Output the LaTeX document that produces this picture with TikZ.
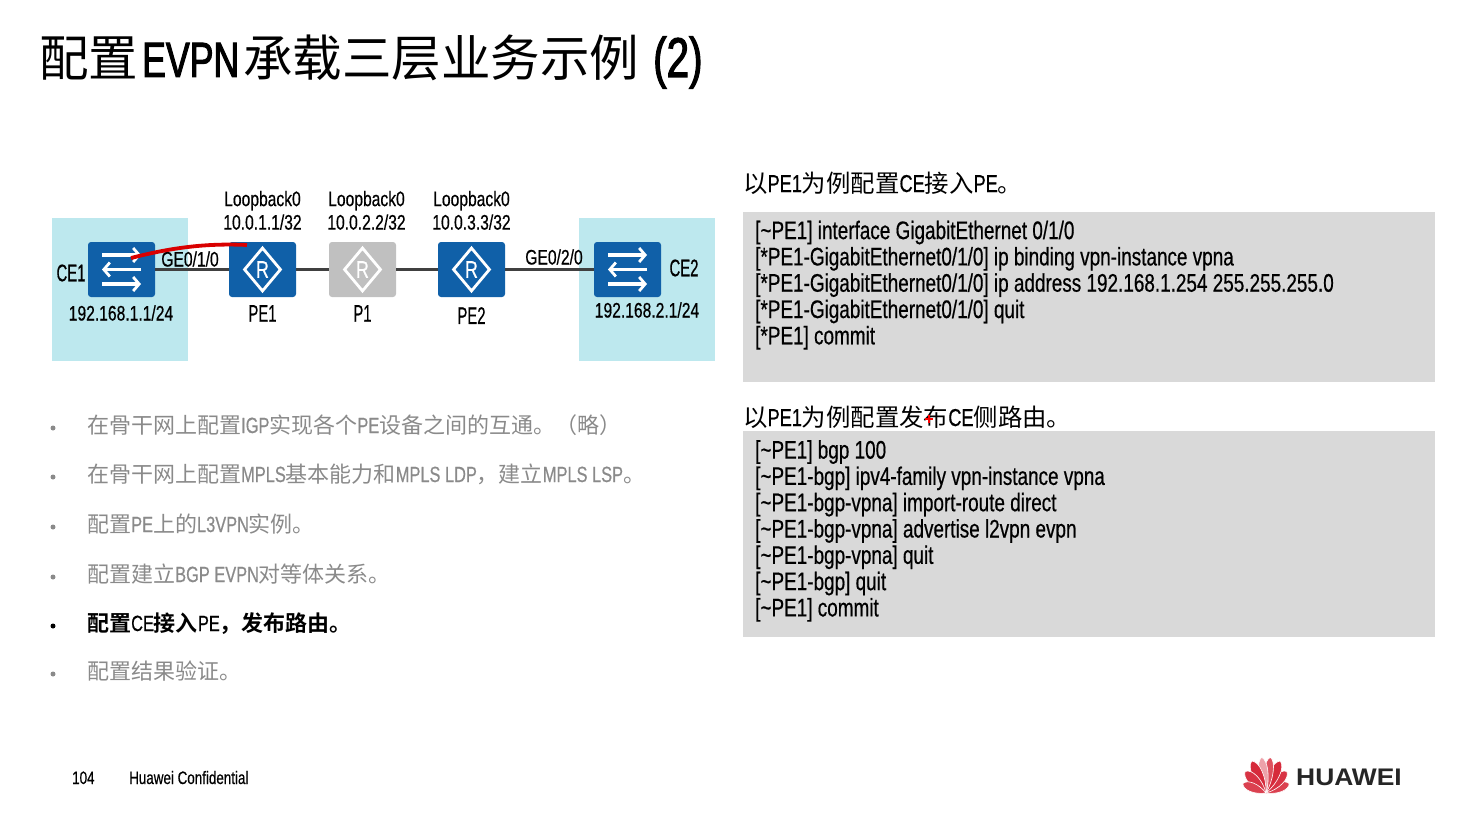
\documentclass[tikz,border=0pt]{standalone}
\usepackage{fontspec}
\usepackage{xcolor}
\usepackage{tikz}
\usetikzlibrary{shapes,arrows.meta,positioning,calc}
\setmainfont{Liberation Sans}[FakeStretch=0.745,FakeBold=0.5]
\newfontfamily\titlefont{Liberation Sans}[FakeStretch=0.72,FakeBold=2]
\newfontfamily\namefont{Liberation Sans}[FakeStretch=0.62,FakeBold=0.5]
\newfontfamily\cjk{Noto Sans CJK SC}
\newfontfamily\cjkbold{Noto Sans CJK SC Bold}
\newfontfamily\brandfont{Liberation Sans Bold}[FakeStretch=1.1]
\newcommand{\zh}[1]{{\cjk #1}}
\newcommand{\zhb}[1]{{\cjkbold #1}}
\definecolor{huaweiblue}{HTML}{1060A8}
\definecolor{devgray}{HTML}{C0C0C0}
\definecolor{sitebg}{HTML}{BDE8EE}
\definecolor{codebg}{HTML}{D9D9D9}
\definecolor{linkline}{HTML}{404040}
\definecolor{mutedtext}{HTML}{8A8A8A}
\definecolor{brandred}{HTML}{D3172A}
\tikzset{
  devbox/.style={minimum width=67pt, minimum height=55pt, inner sep=0pt, outer sep=0pt, rounded corners=3pt},
  sitebox/.style={fill=sitebg, minimum width=136pt, minimum height=143pt, inner sep=0pt},
  codebox/.style={fill=codebg, minimum width=692pt, inner sep=0pt, anchor=north west},
  devlabel/.style={font=\namefont\fontsize{24}{26}\selectfont, inner sep=0pt},
  addrlabel/.style={font=\fontsize{21}{23.5}\selectfont, inner sep=0pt, align=center},
  headline/.style={font=\fontsize{24.4}{26}\selectfont, inner sep=0pt, anchor=base west},
  codeline/.style={font=\fontsize{25.4}{26.3}\selectfont, inner sep=0pt, anchor=north west, align=left},
  bulletline/.style={font=\fontsize{22}{24}\selectfont, inner sep=0pt, anchor=base west, text=mutedtext},
  dotmark/.style={circle, fill=#1, minimum size=5pt, inner sep=0pt},
  flowarrow/.style={white, line width=3.4pt, -{Straight Barb[length=6pt,width=14pt,line width=2.8pt]}},
  swicon/.pic={
    \draw[flowarrow] (-19.5,-14.5) -- (19.5,-14.5);
    \draw[flowarrow] (19.5,0) -- (-19.5,0);
    \draw[flowarrow] (-19.5,14.5) -- (19.5,14.5);
  }
}
\begin{document}
\begin{tikzpicture}[x=1pt, y=-1pt, font=\fontsize{21}{24}\selectfont]
  \useasboundingbox (0,0) rectangle (1470,816);

  \node[inner sep=0pt, anchor=base west, font=\fontsize{49.5}{52}\selectfont] (title) at (39,77) {\zh{配置}\kern4pt{\titlefont EVPN}\kern4pt\zh{承载三层业务示例}\kern14pt{\titlefont\fontsize{56}{58}\selectfont (2)}};

  \node[sitebox] (site1) at (120,289.5) {};
  \node[sitebox] (site2) at (646.5,289.5) {};

  \node[devbox, fill=huaweiblue] (CE1) at (121.5,269.5) {};
  \node[devbox, fill=huaweiblue, right=74pt of CE1] (PE1) {};
  \node[devbox, fill=devgray, right=33pt of PE1] (P1) {};
  \node[devbox, fill=huaweiblue, right=42pt of P1] (PE2) {};
  \node[devbox, fill=huaweiblue, right=89pt of PE2] (CE2) {};

  \draw[linkline, line width=2.2pt] (CE1) -- (PE1) -- (P1) -- (PE2) -- (CE2);

  \pic at (CE1) {swicon};
  \pic at (CE2) {swicon};
  \foreach \dev in {PE1,P1,PE2} {
    \node[diamond, draw=white, line width=2.8pt, minimum width=37pt, minimum height=44pt, inner sep=0pt, text=white, font=\fontsize{24}{26}\selectfont] (\dev mark) at (\dev) {R};
  }

  \node[addrlabel, above=12pt of PE1] (PE1loop) {Loopback0\\10.0.1.1/32};
  \node[addrlabel, above=12pt of P1, xshift=4pt] (P1loop) {Loopback0\\10.0.2.2/32};
  \node[addrlabel, above=12pt of PE2] (PE2loop) {Loopback0\\10.0.3.3/32};
  \node[devlabel, below=8pt of PE1] (PE1name) {PE1};
  \node[devlabel, below=8pt of P1] (P1name) {P1};
  \node[devlabel, below=10pt of PE2] (PE2name) {PE2};
  \node[devlabel] (CE1name) at (71,273) {CE1};
  \node[devlabel] (CE2name) at (684,268) {CE2};
  \node[addrlabel] (CE1addr) at (121,313) {192.168.1.1/24};
  \node[addrlabel] (CE2addr) at (647,310) {192.168.2.1/24};
  \node[addrlabel] (CE1port) at (190,259) {GE0/1/0};
  \node[addrlabel] (CE2port) at (554,257) {GE0/2/0};

  \coordinate (strokeA) at (131,258);
  \coordinate (strokeB) at (247,245);
  \draw[red!85!black, line width=3.8pt] (strokeA) .. controls (170,248) and (205,243) .. (strokeB);

  \node[headline] (head1) at (743,192) {\zh{以}PE1\zh{为例配置}CE\zh{接入}PE\zh{。}};
  \node[codebox, minimum height=170pt] (code1) at (743,212) {};
  \node[codeline] (code1text) at (755,220.5) {{[}\textasciitilde PE1] interface GigabitEthernet 0/1/0\\
    {[}*PE1-GigabitEthernet0/1/0] ip binding vpn-instance vpna\\
    {[}*PE1-GigabitEthernet0/1/0] ip address 192.168.1.254 255.255.255.0\\
    {[}*PE1-GigabitEthernet0/1/0] quit\\
    {[}*PE1] commit};

  \node[headline] (head2) at (743,426) {\zh{以}PE1\zh{为例配置发布}CE\zh{侧路由。}};
  \node[codebox, minimum height=206pt] (code2) at (743,431) {};
  \node[codeline] (code2text) at (755,440) {{[}\textasciitilde PE1] bgp 100\\
    {[}\textasciitilde PE1-bgp] ipv4-family vpn-instance vpna\\
    {[}\textasciitilde PE1-bgp-vpna] import-route direct\\
    {[}\textasciitilde PE1-bgp-vpna] advertise l2vpn evpn\\
    {[}\textasciitilde PE1-bgp-vpna] quit\\
    {[}\textasciitilde PE1-bgp] quit\\
    {[}\textasciitilde PE1] commit};
  \coordinate (penmark) at (929,419);
  \draw[red, line width=1.6pt] ($(penmark)+(-4,0)$) -- ($(penmark)+(4,0)$) ($(penmark)+(0,-4)$) -- ($(penmark)+(0,4)$);

  \foreach \ypos/\txt in {
    433/{\zh{在骨干网上配置}IGP\zh{实现各个}PE\zh{设备之间的互通。（略）}},
    482/{\zh{在骨干网上配置}MPLS\zh{基本能力和}MPLS LDP\zh{，建立}MPLS LSP\zh{。}},
    532/{\zh{配置}PE\zh{上的}L3VPN\zh{实例。}},
    582/{\zh{配置建立}BGP EVPN\zh{对等体关系。}},
    679/{\zh{配置结果验证。}}} {
    \node[bulletline] at (87,\ypos) {\txt};
    \node[dotmark=mutedtext] at (53,\ypos-5) {};
  }
  \node[bulletline, text=black] (activestep) at (87,631) {\zhb{配置}CE\zhb{接入}PE\zhb{，发布路由。}};
  \node[dotmark=black] (activedot) at (53,626) {};

  \node[inner sep=0pt, anchor=base west, font=\fontsize{18}{20}\selectfont] (pagenum) at (72,784) {104};
  \node[inner sep=0pt, anchor=base west, font=\fontsize{18}{20}\selectfont] (confid) at (129,784) {Huawei Confidential};

  \coordinate (logobase) at (1266,793);
  \foreach \ang/\len/\wid/\shade in {-68/25/6/82,-44/30/7/88,-24/35/7/92,-7/36/6/75,7/36/6/40,24/35/7/92,44/30/7/88,68/25/6/82} {
    \fill[brandred!\shade!white, draw=white, line width=0.6pt, rotate around={\ang:(logobase)}] (logobase) .. controls ($(logobase)+(-\wid,-\len*0.4)$) and ($(logobase)+(-\wid,-\len*0.9)$) .. ($(logobase)+(0,-\len)$) .. controls ($(logobase)+(\wid,-\len*0.9)$) and ($(logobase)+(\wid,-\len*0.4)$) .. (logobase);
  }
  \node[inner sep=0pt, anchor=base west, text=black!85, font=\brandfont\fontsize{24}{26}\selectfont] (brand) at (1296,785) {HUAWEI};
\end{tikzpicture}
\end{document}
